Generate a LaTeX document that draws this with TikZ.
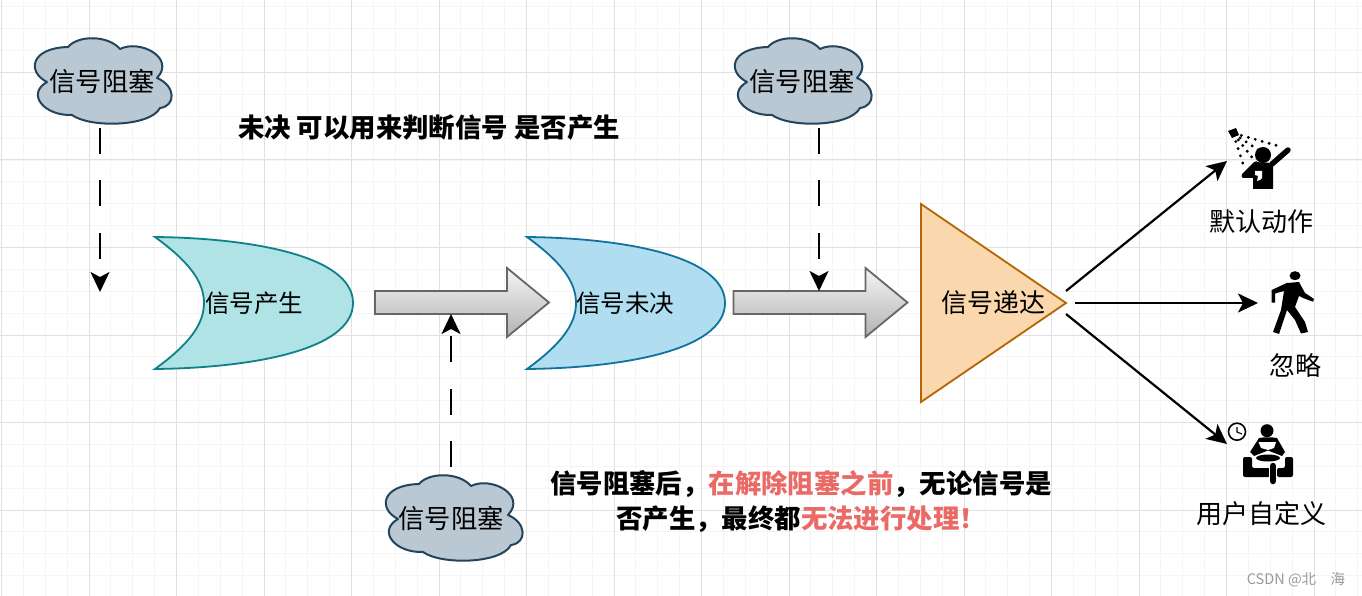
\documentclass[tikz,border=0pt]{standalone}
\usepackage{fontspec}
\setmainfont{Liberation Sans}
\newfontfamily\cjk{Noto Sans CJK SC}
\usetikzlibrary{arrows.meta}
\definecolor{redtxt}{HTML}{EA6B66}
\definecolor{cloudfill}{HTML}{BAC8D3}
\definecolor{cloudline}{HTML}{23445D}
\definecolor{tealfill}{HTML}{B0E3E6}
\definecolor{tealline}{HTML}{0E8088}
\definecolor{bluefill}{HTML}{B1DDF0}
\definecolor{blueline}{HTML}{10739E}
\definecolor{orangefill}{HTML}{FAD7AC}
\definecolor{orangeline}{HTML}{B46504}
\tikzset{
  lbl/.style={font=\cjk\fontsize{26}{28}\selectfont,inner sep=0pt,text=black},
  gatelbl/.style={font=\cjk\fontsize{24.5}{28}\selectfont,inner sep=0pt,text=black},
  cloudlbl/.style={font=\cjk\fontsize{26.3}{28}\selectfont,inner sep=0pt,text=black},
  boldlbl/.style={font=\cjk\bfseries\fontsize{26.4}{35}\selectfont,inner sep=0pt,text=black},
  wire/.style={draw=black,line width=2.2pt,-{Stealth[length=20pt,width=19pt,inset=5pt]}},
  dashwire/.style={wire,dash pattern=on 26pt off 26.5pt},
  gate/.style={line width=1.8pt},
  blockarrow/.style={draw=black!60,line width=1.8pt,top color=black!4,bottom color=black!30,shading angle=0},
  icon/.style={fill=black,draw=none},
}
\newcommand{\orgate}[3]{%
  \path[fill=#2,draw=#3,gate,shift={(#1,0)}] (155,237) .. controls (248,238) and (353,255) .. (353,303)
    .. controls (353,351) and (248,368) .. (155,369)
    .. controls (188,345) and (204,325) .. (204,303)
    .. controls (204,281) and (188,261) .. (155,237) -- cycle;}
\newcommand{\blockcloud}[2]{%
  \path[fill=cloudfill,draw=cloudline,line width=2pt,shift={(#1,#2)},line join=round]
    (47,82) .. controls (27,72) and (30,48) .. (68,47)
    .. controls (78,35) and (108,35) .. (120,49)
    .. controls (140,39) and (176,58) .. (157,78)
    .. controls (176,86) and (176,106) .. (160,108)
    .. controls (150,127) and (90,128) .. (72,115)
    .. controls (44,116) and (26,94) .. (47,82) -- cycle;}
\begin{document}
\begin{tikzpicture}[x=1pt,y=-1pt]
\useasboundingbox (0,0) rectangle (1362,596);
\fill[white] (0,0) rectangle (1362,596);
% grid
\foreach \i in {0,...,62} \draw[black!4,line width=1pt] ({1.5+21.875*\i},0) -- ({1.5+21.875*\i},596);
\foreach \i in {0,...,28} \draw[black!4,line width=1pt] (0,{6.9+21.875*\i}) -- (1362,{6.9+21.875*\i});
\foreach \i in {0,...,15} \draw[black!12,line width=1pt] ({1.5+87.5*\i},0) -- ({1.5+87.5*\i},596);
\foreach \i in {0,...,6} \draw[black!12,line width=1pt] (0,{72.5+87.5*\i}) -- (1362,{72.5+87.5*\i});
% clouds
\blockcloud{0}{0}
\blockcloud{700}{0}
\blockcloud{351}{437}
\node[cloudlbl] (cloudA) at (102,81) {信号阻塞};
\node[cloudlbl] (cloudB) at (802,81) {信号阻塞};
\node[cloudlbl] (cloudC) at (451,518) {信号阻塞};
% gates
\orgate{0}{tealfill}{tealline}
\orgate{372}{bluefill}{blueline}
\node[gatelbl] (gateA) at (254,303) {信号产生};
\node[gatelbl] (gateB) at (625,303) {信号未决};
% block arrows
\path[blockarrow] (375,291) -- (507,291) -- (507,268) -- (549,302.5) -- (507,337) -- (507,314) -- (375,314) -- cycle;
\path[blockarrow] (733.5,291) -- (865.5,291) -- (865.5,268) -- (907.5,302.5) -- (865.5,337) -- (865.5,314) -- (733.5,314) -- cycle;
\coordinate (arrowA) at (451,314);
\coordinate (arrowB) at (819,291);
\coordinate (stopA) at (100,292);
% triangle
\path[fill=orangefill,draw=orangeline,gate,line join=miter] (921,204) -- (1066,303) -- (921,402) -- cycle;
\node[lbl] (tri) at (993,303) {信号递达};
\coordinate (triT) at (1066,291);
\coordinate (triM) at (1075,303);
\coordinate (triB) at (1066,314);
% dashed connectors
\coordinate (fromA) at (100,128);
\coordinate (fromB) at (819,128);
\coordinate (fromC) at (451,467);
\draw[dashwire] (fromA) -- (stopA);
\draw[dashwire] (fromB) -- (arrowB);
\draw[dashwire] (fromC) -- (arrowA);
% icons anchors
\coordinate (iconA) at (1227,161);
\coordinate (iconB) at (1258,303);
\coordinate (iconC) at (1227,444);
\draw[wire] (triT) -- (iconA);
\draw[wire] (triM) -- (iconB);
\draw[wire] (triB) -- (iconC);
% shower icon
\fill[icon] (1228,131) -- (1236,128) -- (1239,135) -- (1232,138) -- cycle;
\foreach \a/\n/\s in {16/6/7.2,34/5/7.2,52/5/7.2,72/4/7.5}{
  \foreach \k in {1,...,\n}{
    \fill ({1233+(\k*\s)*cos(\a)+1.5*cos(\a)},{133+(\k*\s)*sin(\a)+1.5*sin(\a)}) circle (1.6pt);
  }
}
\fill[icon] (1263,155) circle (8pt);
\draw[line width=5.5pt,line cap=round] (1272,164) -- (1288,150);
\fill[icon] (1254,162) -- (1273,163) -- (1273,189) -- (1253,189) -- (1253,178) -- (1244,178) .. controls (1241,178) and (1241,175) .. (1243,173) -- cycle;
\fill[white] (1255,171) -- (1262,171) -- (1262,178) .. controls (1262,180) and (1259,180) .. (1257,181) -- (1258,176) -- (1255,175) -- cycle;
\node[lbl] (lblA) at (1261,222) {默认动作};
% walker icon
\fill[icon] (1295,275.7) ellipse (5.5pt and 4.5pt);
\fill[icon] (1271.7,290) -- (1286.7,283) -- (1299,282) -- (1305,293) -- (1314,299) -- (1313,301.7) -- (1303,298) -- (1299,296) -- (1295,307)
 -- (1305,322) -- (1308,332) -- (1301,333.5) -- (1295,320) -- (1287,310) -- (1279,334) -- (1273,332) -- (1281,310) -- (1284,291) -- (1275,293.5) -- (1275,302.7) -- (1271.7,302.7) -- cycle;
\node[lbl] (lblB) at (1295,366) {忽略};
% person icon
\draw[line width=1.6pt] (1237,431.7) circle (8.5pt);
\draw[line width=1.1pt] (1237,427) -- (1237,432) -- (1242,434);
\fill[icon] (1267,430.7) circle (6.5pt);
\fill[icon] (1250,452) -- (1259,438) .. controls (1264,437) and (1272,437) .. (1277,438) -- (1285,452) -- (1282,456) -- (1268,450.5) -- (1254,456) -- cycle;
\fill[white] (1258.5,442) -- (1276,442) -- (1274,448) -- (1268,450) -- (1261,448) -- cycle;
\fill[icon] (1268,458) ellipse (12pt and 3.5pt);
\fill[icon,rounded corners=2pt] (1243,457) -- (1252,457) -- (1252,468) -- (1270,468) -- (1270,477) -- (1243,477) -- cycle;
\fill[icon,rounded corners=2pt] (1285,457) -- (1293,457) -- (1293,477) -- (1277,477) -- (1277,468) -- (1285,468) -- cycle;
\draw[white,line width=8.5pt,line cap=round] (1273,466) -- (1273,480);
\draw[line width=6.5pt,line cap=round] (1273,466) -- (1273,481);
\node[lbl] (lblC) at (1261,514) {用户自定义};
% bold notes
\node[boldlbl] (noteA) at (429,128) {未决 可以用来判断信号 是否产生};
\node[boldlbl,align=center] (noteB) at (801,502) {信号阻塞后，{\color{redtxt}在解除阻塞之前}，无论信号是\\否产生，最终都{\color{redtxt}无法进行处理！}};
\node[font=\cjk\fontsize{14.5}{16}\selectfont,text=black!40,inner sep=0pt] (mark) at (1296,580) {CSDN @北　海};
\end{tikzpicture}
\end{document}
